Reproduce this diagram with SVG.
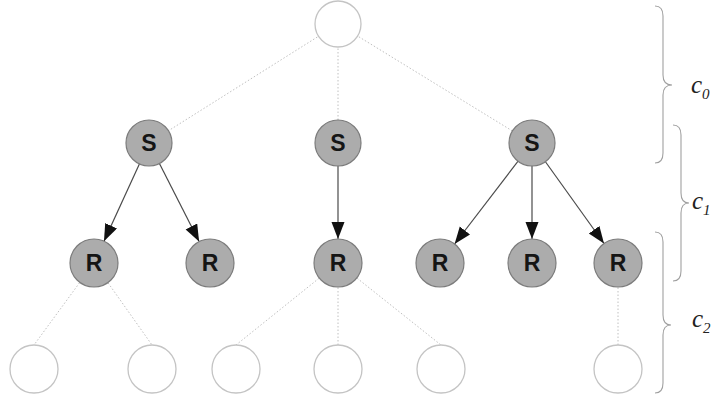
<svg xmlns="http://www.w3.org/2000/svg" width="715" height="397" viewBox="0 0 715 397">
  <style>
    .empty { fill: #ffffff; stroke: #c4c4c4; stroke-width: 1.3; }
    .full { fill: #acacac; stroke: #7c7c7c; stroke-width: 1.2; }
    .lbl { font-family: "Liberation Sans", Arial, sans-serif; font-weight: bold; font-size: 23px; fill: #151515; text-anchor: middle; }
    .dot { stroke: #c0c0c0; stroke-width: 1; stroke-dasharray: 1.5 2; fill: none; }
    .arr { stroke: #4a4a4a; stroke-width: 1.2; fill: none; marker-end: url(#head); }
    .brace { stroke: #a0a0a0; stroke-width: 1.1; fill: none; }
    .cl { font-family: "Liberation Serif", "Times New Roman", serif; font-style: italic; fill: #222222; }
  </style>
  <defs>
    <marker id="head" markerUnits="userSpaceOnUse" markerWidth="18" markerHeight="14" refX="17" refY="6.5" orient="auto">
      <path d="M0,0 L17,6.5 L0,13 Z" fill="#111111"/>
    </marker>
  </defs>
  <rect width="715" height="397" fill="#ffffff"/>

  <g id="connectors">
    <!-- dotted links from the root -->
    <line class="dot" x1="338" y1="24" x2="149" y2="143"/>
    <line class="dot" x1="338" y1="24" x2="338" y2="143"/>
    <line class="dot" x1="338" y1="24" x2="532" y2="143"/>
    <!-- arrows S to R -->
    <line class="arr" x1="149" y1="143" x2="104" y2="241.2"/>
    <line class="arr" x1="149" y1="143" x2="199.1" y2="241.6"/>
    <line class="arr" x1="338" y1="143" x2="338" y2="239"/>
    <line class="arr" x1="532" y1="143" x2="454.6" y2="244"/>
    <line class="arr" x1="532" y1="143" x2="532" y2="239"/>
    <line class="arr" x1="532" y1="143" x2="604" y2="243.5"/>
    <!-- dotted links to the leaves -->
    <line class="dot" x1="94" y1="263" x2="34" y2="345"/>
    <line class="dot" x1="94" y1="263" x2="152" y2="345"/>
    <line class="dot" x1="338" y1="263" x2="236" y2="345"/>
    <line class="dot" x1="338" y1="263" x2="338" y2="345"/>
    <line class="dot" x1="338" y1="263" x2="441" y2="345"/>
    <line class="dot" x1="618" y1="263" x2="618" y2="345"/>
  </g>

  <g id="root"><circle class="empty" cx="338" cy="24" r="23"/></g>

  <g id="s1"><circle class="full" cx="149" cy="143" r="23"/><text class="lbl" x="149" y="151">S</text></g>
  <g id="s2"><circle class="full" cx="338" cy="143" r="23"/><text class="lbl" x="338" y="151">S</text></g>
  <g id="s3"><circle class="full" cx="532" cy="143" r="23"/><text class="lbl" x="532" y="151">S</text></g>

  <g id="r1"><circle class="full" cx="94" cy="263" r="24"/><text class="lbl" x="94" y="271">R</text></g>
  <g id="r2"><circle class="full" cx="210" cy="263" r="24"/><text class="lbl" x="210" y="271">R</text></g>
  <g id="r3"><circle class="full" cx="338" cy="263" r="24"/><text class="lbl" x="338" y="271">R</text></g>
  <g id="r4"><circle class="full" cx="440" cy="263" r="24"/><text class="lbl" x="440" y="271">R</text></g>
  <g id="r5"><circle class="full" cx="532" cy="263" r="24"/><text class="lbl" x="532" y="271">R</text></g>
  <g id="r6"><circle class="full" cx="618" cy="263" r="24"/><text class="lbl" x="618" y="271">R</text></g>

  <g id="leaf1"><circle class="empty" cx="34" cy="369" r="24"/></g>
  <g id="leaf2"><circle class="empty" cx="152" cy="369" r="24"/></g>
  <g id="leaf3"><circle class="empty" cx="236" cy="369" r="24"/></g>
  <g id="leaf4"><circle class="empty" cx="338" cy="369" r="24"/></g>
  <g id="leaf5"><circle class="empty" cx="441" cy="369" r="24"/></g>
  <g id="leaf6"><circle class="empty" cx="618" cy="369" r="24"/></g>

  <!-- level braces -->
  <g id="brace-c0">
    <path class="brace" d="M655,6 Q663,6 663,16 L663,75 Q663,85 672,85 Q663,85 663,95 L663,153 Q663,163 655,163"/>
    <text class="cl" x="691" y="93" font-size="25">c<tspan font-size="15" dy="6">0</tspan></text>
  </g>
  <g id="brace-c1">
    <path class="brace" d="M673,125 Q681,125 681,135 L681,193 Q681,203 689,203 Q681,203 681,213 L681,271 Q681,281 673,281"/>
    <text class="cl" x="692" y="209" font-size="25">c<tspan font-size="15" dy="6">1</tspan></text>
  </g>
  <g id="brace-c2">
    <path class="brace" d="M655,232 Q663,232 663,242 L663,315 Q663,325 671,325 Q663,325 663,335 L663,383 Q663,393 655,393"/>
    <text class="cl" x="692" y="327" font-size="25">c<tspan font-size="15" dy="6">2</tspan></text>
  </g>
</svg>
